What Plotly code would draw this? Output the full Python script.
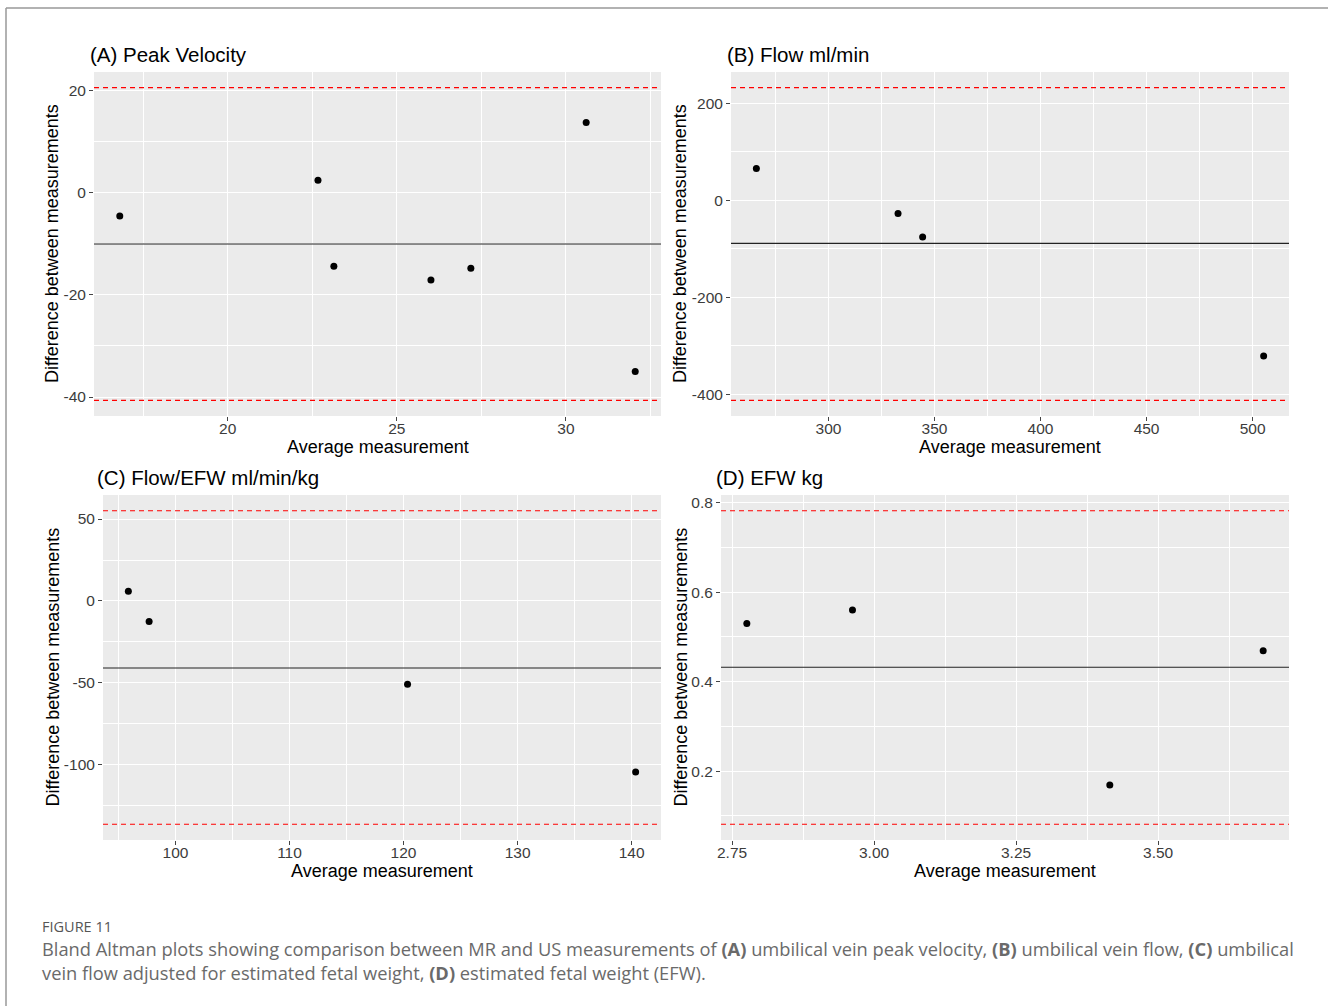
import plotly.graph_objects as go

W, H = 1328, 1006

# ---------------- data ----------------
pv_avg = [16.81, 22.67, 23.14, 26.01, 27.19, 30.60, 32.05]
pv_diff = [-4.6, 2.4, -14.4, -17.1, -14.8, 13.7, -35.0]
pv_lines = [-10.05, 20.54, -40.65]  # mean, upper LoA, lower LoA

flow_avg = [266.0, 332.8, 344.4, 505.2]
flow_diff = [65.9, -26.8, -75.6, -320.8]
flow_lines = [-88.6, 232.8, -412.6]

fe_avg = [95.87, 97.69, 120.35, 140.35]
fe_diff = [5.9, -12.6, -50.8, -104.4]
fe_lines = [-40.9, 55.1, -136.3]

efw_avg = [2.776, 2.962, 3.415, 3.685]
efw_diff = [0.530, 0.560, 0.169, 0.469]
efw_lines = [0.432, 0.782, 0.081]

titles = ["(A) Peak Velocity", "(B) Flow ml/min", "(C) Flow/EFW ml/min/kg", "(D) EFW kg"]

pv_xt = [20, 25, 30]
pv_yt = [-40, -20, 0, 20]
flow_xt = [300, 350, 400, 450, 500]
flow_yt = [-400, -200, 0, 200]
fe_xt = [100, 110, 120, 130, 140]
fe_yt = [-100, -50, 0, 50]
efw_xt = [2.75, 3.00, 3.25, 3.50]
efw_yt = [0.2, 0.4, 0.6, 0.8]

x_title = "Average measurement"
y_title = "Difference between measurements"
caption_head = "FIGURE 11"
caption_1 = ("Bland Altman plots showing comparison between MR and US measurements of "
             "<b>(A)</b> umbilical vein peak velocity, <b>(B)</b> umbilical vein flow, "
             "<b>(C)</b> umbilical")
caption_2 = ("vein flow adjusted for estimated fetal weight, <b>(D)</b> estimated fetal "
             "weight (EFW).")

# ---------------- layout helpers ----------------
def px_x(p):
    return p / W

def px_y(p):
    return 1 - p / H

FONT = "Liberation Sans, Arial, Helvetica, sans-serif"

panels = [
    dict(x=pv_avg, y=pv_diff, lines=pv_lines, xt=pv_xt, yt=pv_yt, fmt="{:g}", yfmt="{:g}",
         dom=(94, 661, 72, 416), xminor=2.5, yminor=10),
    dict(x=flow_avg, y=flow_diff, lines=flow_lines, xt=flow_xt, yt=flow_yt, fmt="{:g}", yfmt="{:g}",
         dom=(731, 1289, 72, 416), xminor=25, yminor=100),
    dict(x=fe_avg, y=fe_diff, lines=fe_lines, xt=fe_xt, yt=fe_yt, fmt="{:g}", yfmt="{:g}",
         dom=(103, 661, 495, 840), xminor=5, yminor=25),
    dict(x=efw_avg, y=efw_diff, lines=efw_lines, xt=efw_xt, yt=efw_yt, fmt="{:.2f}", yfmt="{:.1f}",
         dom=(721, 1289, 495, 840), xminor=0.125, yminor=0.1),
]
title_pos = [(88, 54), (725, 54), (95, 477), (714, 477)]
ytitle_x = [52, 680, 52, 680]

fig = go.Figure()
annotations = []
shapes = []
layout = {}

for i, p in enumerate(panels):
    n = "" if i == 0 else str(i + 1)
    xa, ya = "x" + n, "y" + n
    x0, x1, y0, y1 = p["dom"]

    xs = p["x"]
    ys = list(p["y"]) + p["lines"][1:]
    xr = [min(xs), max(xs)]
    yr = [min(ys), max(ys)]
    xe = (xr[1] - xr[0]) * 0.05
    ye = (yr[1] - yr[0]) * 0.05

    fig.add_trace(go.Scatter(x=p["x"], y=p["y"], mode="markers", xaxis=xa, yaxis=ya,
                             marker=dict(color="black", size=7), showlegend=False,
                             hoverinfo="skip"))

    common = dict(showline=False, zeroline=False, showgrid=True, gridcolor="white",
                  gridwidth=1.1, ticks="outside", ticklen=4, tickwidth=1,
                  tickcolor="#444", tickfont=dict(family=FONT, size=15.5, color="#3c3c3c"),
                  automargin=False)
    layout["xaxis" + n] = dict(
        domain=[px_x(x0), px_x(x1)], anchor=ya,
        range=[xr[0] - xe, xr[1] + xe],
        tickmode="array", tickvals=p["xt"], ticktext=[p["fmt"].format(v) for v in p["xt"]],
        ticklabelstandoff=-6,
        minor=dict(dtick=p["xminor"], tick0=0, showgrid=True, gridcolor="white",
                   gridwidth=0.6, ticks=""),
        **common)
    layout["yaxis" + n] = dict(
        domain=[px_y(y1), px_y(y0)], anchor=xa,
        range=[yr[0] - ye, yr[1] + ye],
        tickmode="array", tickvals=p["yt"],
        ticktext=[p["yfmt"].format(v) for v in p["yt"]],
        minor=dict(dtick=p["yminor"], tick0=0, showgrid=True, gridcolor="white",
                   gridwidth=0.6, ticks=""),
        **common)

    # background panel
    shapes.append(dict(type="rect", xref=xa + " domain", yref=ya + " domain",
                       x0=0, x1=1, y0=0, y1=1, fillcolor="#EBEBEB",
                       line=dict(width=0), layer="below"))
    # mean line
    shapes.append(dict(type="line", xref=xa + " domain", yref=ya, x0=0, x1=1,
                       y0=p["lines"][0], y1=p["lines"][0],
                       line=dict(color="#222", width=1.1)))
    # limits of agreement
    for v in p["lines"][1:]:
        shapes.append(dict(type="line", xref=xa + " domain", yref=ya, x0=0, x1=1,
                           y0=v, y1=v, line=dict(color="red", width=1.1, dash="5px,4px")))

    tx, ty = title_pos[i]
    annotations.append(dict(text=titles[i], x=px_x(tx), y=px_y(ty), xref="paper",
                            yref="paper", xanchor="left", yanchor="middle", showarrow=False,
                            font=dict(family=FONT, size=20.5, color="black")))
    annotations.append(dict(text=x_title, x=px_x((x0 + x1) / 2), y=px_y(y1 + 31),
                            xref="paper", yref="paper", xanchor="center", yanchor="middle",
                            showarrow=False, font=dict(family=FONT, size=18, color="black")))
    annotations.append(dict(text=y_title, x=px_x(ytitle_x[i]), y=px_y((y0 + y1) / 2),
                            xref="paper", yref="paper", xanchor="center", yanchor="middle",
                            textangle=-90, showarrow=False,
                            font=dict(family=FONT, size=18, color="black")))

# caption
CAP = "Open Sans, sans-serif"
annotations.append(dict(text=caption_head, x=px_x(40), y=px_y(926), xref="paper", yref="paper",
                        xanchor="left", yanchor="middle", showarrow=False,
                        font=dict(family=CAP, size=14.5, color="#555")))
annotations.append(dict(text=caption_1, x=px_x(40), y=px_y(948), xref="paper", yref="paper",
                        xanchor="left", yanchor="middle", showarrow=False,
                        font=dict(family=CAP, size=18.3, color="#6a6a6a")))
annotations.append(dict(text=caption_2, x=px_x(40), y=px_y(972), xref="paper", yref="paper",
                        xanchor="left", yanchor="middle", showarrow=False,
                        font=dict(family=CAP, size=18.3, color="#6a6a6a")))

# figure frame (top and left)
shapes.append(dict(type="line", xref="paper", yref="paper", x0=px_x(6), x1=1.0,
                   y0=px_y(8), y1=px_y(8), line=dict(color="#999", width=1.5)))
shapes.append(dict(type="line", xref="paper", yref="paper", x0=px_x(6), x1=px_x(6),
                   y0=px_y(8), y1=0, line=dict(color="#999", width=1.5)))

fig.update_layout(width=W, height=H, margin=dict(l=0, r=0, t=0, b=0),
                  paper_bgcolor="white", plot_bgcolor="rgba(0,0,0,0)",
                  annotations=annotations, shapes=shapes, showlegend=False, **layout)

fig.write_html("out.html", config={"displayModeBar": False},
               post_script="document.body.style.margin='0';document.body.style.overflow='hidden';")
